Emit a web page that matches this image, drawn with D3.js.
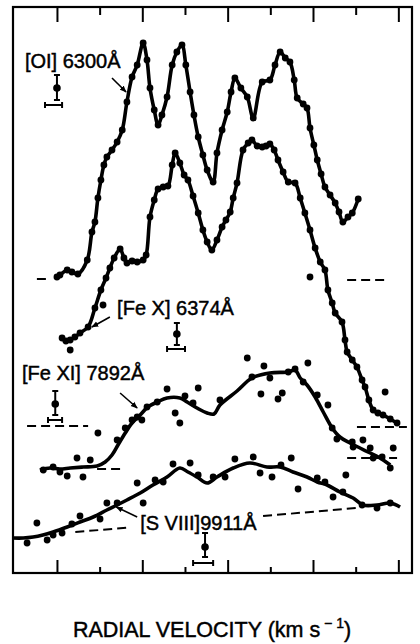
<!DOCTYPE html>
<html lang="en">
<head>
  <meta charset="UTF-8" />
  <title>Coronal Line Profiles</title>
  <style>
    body {
      margin: 0;
      background-color: white;
    }
    svg text {
      font-family: 'Liberation Sans', Arial, Helvetica, sans-serif;
      fill: #000;
      stroke: #000;
      stroke-width: 0.45;
    }
  </style>
</head>
<body>
  <svg width="420" height="644"></svg>

  <script src="https://d3js.org/d3.v7.min.js"></script>
  <script>
    // velocity ticks (km/s), no labels in the original
    const velocityTicks = [-400, -300, -200, -100, 0, 100, 200, 300, 400];

    // profiles: [velocity km/s, relative intensity]
    const oiProfile = [
      [-400, 59.2], [-393, 59.6], [-376, 60.6], [-365, 60.2], [-351, 59.8], [-329, 62.6],
      [-318, 68.2], [-311, 70.2], [-304, 75.0], [-297, 78.6], [-290, 81.6], [-283, 83.2],
      [-271, 84.6], [-259, 86.2], [-247, 88.6], [-236, 94.2], [-224, 99.2], [-212, 101.6],
      [-198, 106.0], [-189, 102.6], [-182, 97.0], [-172, 92.6], [-163, 89.6], [-154, 91.6],
      [-142, 95.2], [-130, 101.6], [-119, 104.2], [-107, 105.6], [-98, 101.6], [-88, 96.2],
      [-79, 91.6], [-69, 87.2], [-58, 83.6], [-48, 80.6], [-34, 78.2], [-25, 84.0],
      [-13, 88.6], [-1, 92.2], [8, 96.2], [17, 99.0], [31, 97.0], [46, 95.2],
      [60, 91.0], [81, 98.2], [99, 98.6], [111, 101.6], [123, 104.2],
      [135, 103.0], [146, 102.2], [156, 98.6], [163, 95.0], [177, 93.8], [186, 93.0],
      [193, 89.0], [202, 85.6], [210, 82.6], [219, 79.8], [228, 77.2], [240, 75.6],
      [252, 74.0], [261, 72.2], [270, 70.2], [282, 71.2], [292, 72.0], [306, 74.8]
    ];

    const fexProfile = [
      [-388, 47.0], [-379, 46.4], [-369, 46.6], [-358, 47.2], [-346, 48.0], [-327, 49.2],
      [-311, 53.0], [-297, 56.6], [-285, 59.0], [-276, 61.0], [-266, 63.0], [-252, 64.8],
      [-243, 63.0], [-236, 62.0], [-224, 62.4], [-212, 62.2], [-198, 62.6], [-191, 63.6],
      [-182, 71.2], [-172, 74.6], [-163, 76.8], [-151, 77.2], [-140, 77.4], [-130, 81.6],
      [-123, 84.0], [-112, 82.0], [-102, 79.6], [-93, 78.6], [-81, 75.4], [-69, 72.0],
      [-58, 68.6], [-48, 66.2], [-37, 64.6], [-25, 66.6], [-13, 69.2], [-4, 70.6],
      [6, 72.2], [13, 75.0], [22, 78.0], [36, 84.6], [48, 86.0], [57, 86.6],
      [69, 85.4], [81, 85.2], [90, 85.4], [99, 85.8], [109, 84.6], [118, 82.6],
      [130, 80.2], [142, 78.2], [158, 78.0], [170, 75.0], [181, 72.0], [193, 68.6],
      [205, 65.0], [217, 62.2], [228, 60.6], [235, 56.6], [245, 54.0], [252, 52.0],
      [268, 50.2], [275, 46.6], [280, 44.2], [292, 42.6], [303, 41.2], [315, 38.6],
      [322, 37.2], [331, 34.6], [341, 32.6], [352, 32.0], [364, 31.6], [381, 30.8],
      [397, 30.0]
    ];
    const fexExtra = [[-292, 53.6], [-369, 44.6], [193, 59.2], [369, 36.2]];

    const fexiFit = [
      [-440, 20.6], [-416, 21.0], [-393, 20.8], [-369, 21.0], [-339, 21.2], [-306, 21.4],
      [-287, 22.2], [-271, 23.6], [-257, 25.6], [-240, 28.0], [-224, 30.0], [-205, 31.6],
      [-187, 33.2], [-165, 34.2], [-142, 35.0], [-112, 35.0], [-95, 34.2], [-72, 33.0],
      [-48, 32.0], [-32, 31.8], [-18, 33.6], [22, 36.4], [57, 39.0], [99, 40.0],
      [142, 40.2], [158, 40.6], [170, 39.0], [186, 37.6], [205, 35.2], [224, 32.2],
      [245, 29.0], [263, 27.2], [287, 26.0], [310, 25.0], [334, 24.0], [357, 23.0],
      [381, 21.6]
    ];
    const fexiObs = [
      [-432, 20.6], [-409, 21.2], [-393, 20.2], [-376, 19.4], [-353, 23.0], [-339, 19.2],
      [-322, 22.6], [-304, 28.0], [-259, 26.6], [-240, 29.0], [-224, 30.6], [-212, 31.2],
      [-201, 30.6], [-189, 33.2], [-165, 34.2], [-142, 36.8], [-123, 32.0], [-112, 30.0],
      [-100, 35.4], [-81, 34.0], [-69, 37.0], [-18, 34.6], [46, 43.0], [57, 39.2],
      [85, 41.4], [78, 35.8], [99, 39.0], [118, 34.8], [128, 36.0], [142, 40.2],
      [158, 40.8], [188, 42.0], [177, 38.2], [210, 35.6], [235, 33.6], [245, 29.0],
      [256, 26.8], [292, 26.2], [294, 25.2], [317, 26.6], [334, 25.0], [341, 23.0],
      [362, 23.2], [388, 25.0], [381, 21.0]
    ];

    const sviiiFit = [
      [-503, 7.0], [-479, 7.0], [-456, 7.2], [-433, 7.6], [-409, 8.2], [-376, 9.2],
      [-346, 10.2], [-315, 11.2], [-283, 12.6], [-259, 13.6], [-236, 14.6], [-205, 16.0],
      [-175, 17.6], [-142, 19.2], [-112, 21.0], [-93, 20.2], [-72, 19.2], [-48, 18.0],
      [-25, 19.2], [13, 21.0], [52, 22.0], [92, 21.2], [123, 21.2], [153, 20.2],
      [186, 19.2], [210, 18.2], [233, 17.6], [263, 16.2], [294, 15.0], [317, 13.6],
      [350, 13.6], [381, 14.0], [404, 13.2]
    ];
    const sviiiObs = [
      [-470, 6.0], [-447, 10.0], [-423, 6.6], [-409, 7.6], [-388, 8.0], [-365, 9.8],
      [-346, 11.4], [-299, 10.8], [-283, 14.0], [-259, 14.0], [-212, 18.0], [-198, 14.0],
      [-170, 18.6], [-151, 18.2], [-128, 21.8], [-88, 22.0], [-69, 19.6], [-34, 19.2],
      [-6, 19.2], [17, 22.8], [60, 23.2], [76, 20.0], [104, 19.2], [125, 21.6],
      [149, 23.0], [165, 16.8], [210, 19.0], [228, 18.2], [247, 15.2], [277, 19.6],
      [270, 16.2], [315, 13.6], [350, 13.0], [381, 14.0]
    ];

    // continuum levels (dashed)
    const baselines = [
      [[-447, 58.8], [-423, 58.8]],
      [[280, 58.6], [373, 58.6]],
      [[-470, 29.4], [-327, 29.4]],
      [[303, 29.2], [420, 29.2]],
      [[-306, 20.8], [-247, 20.8]],
      [[280, 23.0], [397, 23.0]],
      [[-357, 8.2], [-228, 9.1]],
      [[83, 11.4], [303, 13.0]]
    ];

    // error bars: velocity, intensity lo/hi/mid, then horizontal bar level and extent
    const errorBars = [
      { v: -400, lo: 94.6, hi: 99.6, mid: 97.0, h: 93.6, v0: -428, v1: -388 },
      { v: -119, lo: 45.6, hi: 50.0, mid: 47.8, h: 44.8, v0: -142, v1: -100 },
      { v: -404, lo: 31.6, hi: 36.4, mid: 33.8, h: 30.6, v0: -421, v1: -388 },
      { v: -53, lo: 3.2, hi: 8.0, mid: 5.2, h: 2.0, v0: -81, v1: -34 }
    ];

    const labels = [
      { text: "[OI] 6300Å", v: -475, i: 101.0, from: [-271, 99.0], to: [-238, 96.2] },
      { text: "[Fe X] 6374Å", v: -259, i: 51.6, from: [-276, 51.2], to: [-318, 49.2] },
      { text: "[Fe XI] 7892Å", v: -482, i: 38.6, from: [-252, 36.0], to: [-212, 33.0] },
      { text: "[S VIII]9911Å", v: -205, i: 8.6, from: [-212, 11.2], to: [-261, 13.2] }
    ];

    const x = d3.scaleLinear().domain([-503, 432]).range([13, 412]);
    const y = d3.scaleLinear().domain([0, 113.2]).range([573, 7]);

    const svg = d3.select("svg");

    svg.append("defs").append("marker")
      .attr("id", "head")
      .attr("viewBox", "0 0 10 10")
      .attr("refX", 9).attr("refY", 5)
      .attr("markerWidth", 7).attr("markerHeight", 7)
      .attr("markerUnits", "userSpaceOnUse")
      .attr("orient", "auto")
      .append("path")
        .attr("d", "M0,1 L10,5 L0,9 Z")
        .attr("fill", "#000");

    // frame
    svg.append("rect")
      .attr("x", x(-503)).attr("y", y(113.2))
      .attr("width", x(432) - x(-503))
      .attr("height", y(0) - y(113.2))
      .attr("fill", "none")
      .attr("stroke", "#000")
      .attr("stroke-width", 2.2);

    // inward ticks, alternating long / short
    const bottomAxis = svg.append("g")
      .attr("transform", `translate(0,${y(0)})`)
      .call(d3.axisBottom(x).tickValues(velocityTicks).tickSize(-13).tickFormat("").tickSizeOuter(0));
    bottomAxis.select(".domain").remove();
    bottomAxis.selectAll(".tick line")
      .attr("y2", (d, i) => i % 2 ? -6 : -13)
      .attr("stroke-width", 2);

    const topAxis = svg.append("g")
      .attr("transform", `translate(0,${y(113.2)})`)
      .call(d3.axisTop(x).tickValues(velocityTicks).tickSize(-15).tickFormat("").tickSizeOuter(0));
    topAxis.select(".domain").remove();
    topAxis.selectAll(".tick line")
      .attr("y2", (d, i) => i % 2 ? 8 : 15)
      .attr("stroke-width", 2);

    // baselines
    svg.selectAll(".baseline")
      .data(baselines)
      .join("line")
        .attr("class", "baseline")
        .attr("x1", d => x(d[0][0])).attr("y1", d => y(d[0][1]))
        .attr("x2", d => x(d[1][0])).attr("y2", d => y(d[1][1]))
        .attr("stroke", "#000")
        .attr("stroke-width", 2)
        .attr("stroke-dasharray", "9,5");

    const line = d3.line()
      .x(d => x(d[0]))
      .y(d => y(d[1]))
      .curve(d3.curveCatmullRom.alpha(0.5));

    const curves = [oiProfile, fexProfile, fexiFit, sviiiFit];
    svg.selectAll(".profile")
      .data(curves)
      .join("path")
        .attr("class", "profile")
        .attr("d", line)
        .attr("fill", "none")
        .attr("stroke", "#000")
        .attr("stroke-width", 3.6)
        .attr("stroke-linejoin", "round");

    const points = [].concat(oiProfile, fexProfile, fexExtra, fexiObs, sviiiObs);
    svg.selectAll(".pt")
      .data(points)
      .join("circle")
        .attr("class", "pt")
        .attr("cx", d => x(d[0]))
        .attr("cy", d => y(d[1]))
        .attr("r", 3.4)
        .attr("fill", "#000");

    // error bars
    const eb = svg.selectAll(".err")
      .data(errorBars)
      .join("g")
        .attr("class", "err")
        .attr("stroke", "#000")
        .attr("stroke-width", 2);
    eb.append("line")
      .attr("x1", d => x(d.v)).attr("x2", d => x(d.v))
      .attr("y1", d => y(d.lo)).attr("y2", d => y(d.hi));
    eb.append("line")
      .attr("x1", d => x(d.v) - 3).attr("x2", d => x(d.v) + 3)
      .attr("y1", d => y(d.hi)).attr("y2", d => y(d.hi));
    eb.append("line")
      .attr("x1", d => x(d.v) - 3).attr("x2", d => x(d.v) + 3)
      .attr("y1", d => y(d.lo)).attr("y2", d => y(d.lo));
    eb.append("circle")
      .attr("cx", d => x(d.v)).attr("cy", d => y(d.mid))
      .attr("r", 2.8).attr("fill", "#000");
    eb.append("line")
      .attr("x1", d => x(d.v0)).attr("x2", d => x(d.v1))
      .attr("y1", d => y(d.h)).attr("y2", d => y(d.h));
    eb.append("line")
      .attr("x1", d => x(d.v0)).attr("x2", d => x(d.v0))
      .attr("y1", d => y(d.h) - 3).attr("y2", d => y(d.h) + 3);
    eb.append("line")
      .attr("x1", d => x(d.v1)).attr("x2", d => x(d.v1))
      .attr("y1", d => y(d.h) - 3).attr("y2", d => y(d.h) + 3);

    // labels with arrows
    svg.selectAll(".lbl")
      .data(labels)
      .join("text")
        .attr("class", "lbl")
        .attr("x", d => x(d.v))
        .attr("y", d => y(d.i))
        .attr("font-size", 20)
        .text(d => d.text);

    svg.selectAll(".arrow")
      .data(labels)
      .join("line")
        .attr("class", "arrow")
        .attr("x1", d => x(d.from[0])).attr("y1", d => y(d.from[1]))
        .attr("x2", d => x(d.to[0])).attr("y2", d => y(d.to[1]))
        .attr("stroke", "#000")
        .attr("stroke-width", 1.6)
        .attr("marker-end", "url(#head)");

    // axis title
    const title = svg.append("text")
      .attr("x", 212)
      .attr("y", 637)
      .attr("text-anchor", "middle")
      .attr("font-size", 21.5);
    title.append("tspan").text("RADIAL VELOCITY (km s");
    title.append("tspan").attr("dy", -9).attr("font-size", 14).text(" \u2212 1");
    title.append("tspan").attr("dy", 9).text(")");
  </script>
</body>
</html>
